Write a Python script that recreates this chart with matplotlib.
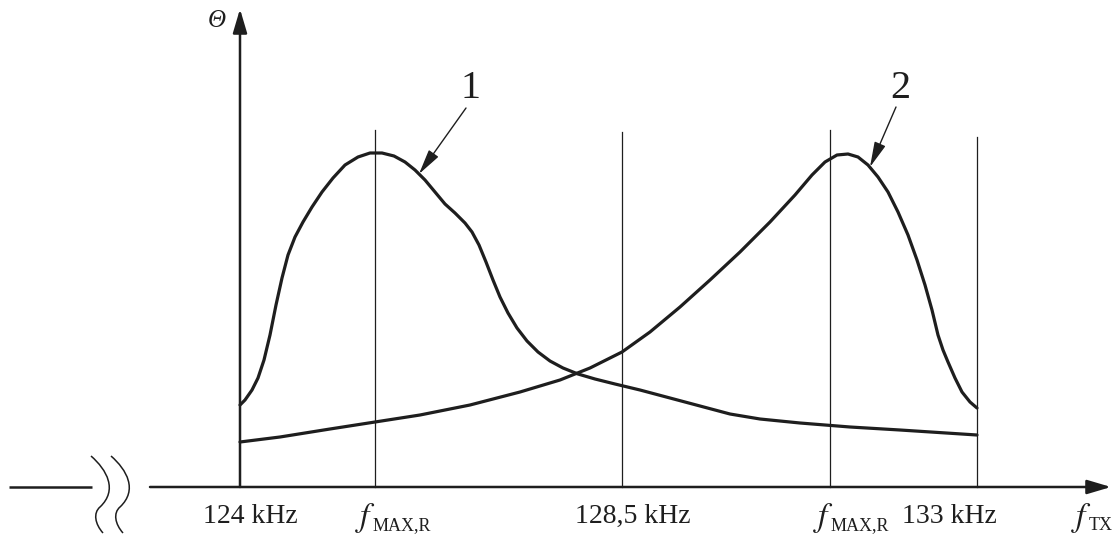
import matplotlib.pyplot as plt
from matplotlib.path import Path
from matplotlib.patches import PathPatch

plt.rcParams['mathtext.fontset'] = 'stix'
plt.rcParams['font.family'] = ['Liberation Serif', 'DejaVu Serif']

# schematic coordinates (x to the right, y downward)
curve1_x = [240, 245, 252, 258, 264, 270, 276, 282, 288, 295, 303, 312, 322, 333, 345, 358,
            370, 382, 394, 405, 415, 425, 435, 445, 455, 465, 472, 479, 486, 493, 500, 508,
            517, 527, 538, 550, 563, 578, 595, 615, 640, 670, 700, 730, 760, 800, 850, 900, 977]
curve1_y = [405, 400, 390, 378, 360, 335, 305, 278, 255, 237, 222, 207, 192, 178, 165, 157,
            153, 153, 156, 162, 170, 180, 192, 204, 213, 223, 232, 245, 262, 280, 297, 313,
            328, 341, 352, 361, 368, 374, 379, 384, 390, 398, 406, 414, 419, 423, 427, 430, 435]
curve2_x = [240, 280, 330, 375, 420, 470, 520, 560, 590, 622, 650, 680, 710, 740, 770, 795,
            812, 825, 837, 848, 858, 868, 878, 888, 898, 908, 917, 925, 932, 938, 943, 948,
            955, 962, 970, 977]
curve2_y = [442, 437, 429, 422, 415, 405, 392, 380, 368, 352, 332, 307, 280, 252, 222, 195,
            175, 162, 155, 154, 157, 165, 177, 192, 212, 235, 260, 285, 310, 335, 350, 362,
            378, 392, 402, 408]

guide_x = [375, 622, 830, 977]
guide_top = [130, 132, 130, 137]

tick_labels = ['124 kHz', '128,5 kHz', '133 kHz']
tick_pos = [250, 633, 949]
freq_subs = ['MAX,R', 'MAX,R', 'TX']
freq_pos = [355, 813, 1071]

ink = '#1e1e1e'
x_axis_y = 487

fig = plt.figure(figsize=(11.12, 5.36), dpi=100)
ax = fig.add_axes([0, 0, 1, 1])
ax.set_xlim(0, 1112)
ax.set_ylim(536, 0)
ax.axis('off')

# axes with arrows
ax.plot([9, 92], [x_axis_y, x_axis_y], color=ink, lw=1.8, solid_capstyle='butt')
big_head = '-|>,head_length=1.45,head_width=0.43'
ax.annotate('', xy=(1111, x_axis_y), xytext=(150, x_axis_y),
            arrowprops=dict(arrowstyle=big_head, color=ink, lw=1.8, shrinkA=0, shrinkB=0))
ax.annotate('', xy=(240, 9), xytext=(240, x_axis_y),
            arrowprops=dict(arrowstyle=big_head, color=ink, lw=1.8, shrinkA=0, shrinkB=0))

# axis break squiggles
for dx in (0, 20):
    verts = [(91 + dx, 456), (107 + dx, 470), (118 + dx, 490), (100 + dx, 507),
             (93 + dx, 513), (95 + dx, 524), (103 + dx, 533)]
    codes = [Path.MOVETO] + [Path.CURVE4] * 6
    ax.add_patch(PathPatch(Path(verts, codes), fill=False, edgecolor=ink, lw=1.1))

# guide lines
for gx, gt in zip(guide_x, guide_top):
    ax.plot([gx, gx], [gt, x_axis_y], color=ink, lw=0.9)

# curves
ax.plot(curve1_x, curve1_y, color=ink, lw=2.3, solid_capstyle='round', solid_joinstyle='round')
ax.plot(curve2_x, curve2_y, color=ink, lw=2.3, solid_capstyle='round', solid_joinstyle='round')

# callouts
small_head = '-|>,head_length=1.55,head_width=0.36'
ax.text(470, 88, '1', fontsize=29, ha='center', va='center', color=ink)
ax.annotate('', xy=(419, 174), xytext=(466, 108),
            arrowprops=dict(arrowstyle=small_head, color=ink, lw=1.0, shrinkA=0, shrinkB=0))
ax.text(900, 88, '2', fontsize=29, ha='center', va='center', color=ink)
ax.annotate('', xy=(870, 167), xytext=(896, 107),
            arrowprops=dict(arrowstyle=small_head, color=ink, lw=1.0, shrinkA=0, shrinkB=0))

# labels
for lab, px in zip(tick_labels, tick_pos):
    ax.text(px, 523, lab, fontsize=20, ha='center', va='baseline', color=ink)
for sub, px in zip(freq_subs, freq_pos):
    ax.text(px, 526, r'$f$', fontsize=24, ha='left', va='baseline', color=ink)
    ax.text(px + 18, 530, sub, fontsize=13, ha='left', va='baseline', color=ink)
ax.text(217, 21, 'Θ', fontsize=18, fontstyle='italic', ha='center', va='center', color=ink)

fig.savefig('out.png', dpi=100)
